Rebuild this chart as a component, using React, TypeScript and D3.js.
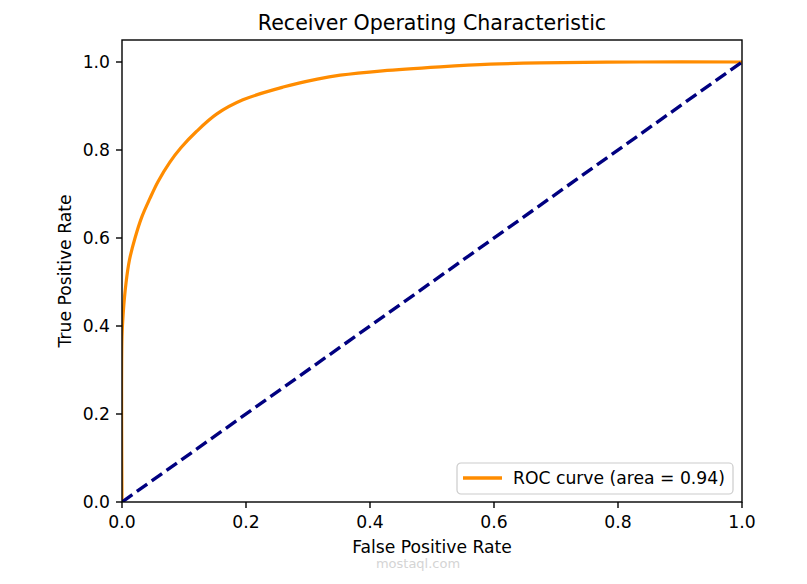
import React from 'react';
import * as d3 from 'd3';

// ROC curve
const fpr = [0, 0, 0.002, 0.0065, 0.012, 0.021, 0.032, 0.045, 0.058, 0.077, 0.095, 0.12, 0.153, 0.195, 0.26, 0.315, 0.352, 0.42, 0.513, 0.594, 0.674, 0.835, 1.0];
const tpr = [0, 0.375, 0.43, 0.498, 0.55, 0.6, 0.648, 0.69, 0.728, 0.772, 0.805, 0.842, 0.882, 0.914, 0.943, 0.961, 0.97, 0.98, 0.989, 0.995, 0.998, 1.0, 1.0];
const chanceX = [0, 1];
const chanceY = [0, 1];
const xTicks = [0, 0.2, 0.4, 0.6, 0.8, 1.0];
const yTicks = [0, 0.2, 0.4, 0.6, 0.8, 1.0];
const rocLabel = 'ROC curve (area = 0.94)';

const W = 807;
const H = 584;
const margin = { top: 40, right: 65, bottom: 82, left: 122 };
const FONT = 'DejaVu Sans, Liberation Sans, sans-serif';

export default function App() {
  const iw = W - margin.left - margin.right;
  const ih = H - margin.top - margin.bottom;

  const x = d3.scaleLinear().domain([0, 1]).range([0, iw]);
  const y = d3.scaleLinear().domain([0, 1.05]).range([ih, 0]);

  // centripetal catmull-rom copes with the vertical start segment
  const line = d3.line<number>()
    .x(d => x(d))
    .y((_, i) => y(tpr[i]))
    .curve(d3.curveCatmullRom.alpha(0.5));
  const rocPath = line(fpr) || '';

  const diag = d3.line<number>()
    .x(d => x(d))
    .y((_, i) => y(chanceY[i]))(chanceX) || '';

  const fmt = d3.format('.1f');

  return (
    <svg
      width={W}
      height={H}
      style={{ position: 'absolute', left: 0, top: 0, background: '#fff' }}
      fontFamily={FONT}
    >
      <text x={margin.left + iw / 2} y={30} textAnchor="middle" fontSize={20.6} fill="#000">
        Receiver Operating Characteristic
      </text>

      <g transform={`translate(${margin.left},${margin.top})`}>
        <defs>
          <clipPath id="plot-clip">
            <rect x={0} y={0} width={iw} height={ih} />
          </clipPath>
        </defs>

        <g clipPath="url(#plot-clip)">
          <path d={rocPath} fill="none" stroke="#ff8c00" strokeWidth={3.2} strokeLinejoin="round" />
          <path d={diag} fill="none" stroke="#000080" strokeWidth={3.4} strokeDasharray="12.7 5.5" />
        </g>

        {/* frame */}
        <rect x={0} y={0} width={iw} height={ih} fill="none" stroke="#000" strokeWidth={1.4} />

        {/* x axis */}
        {xTicks.map(t => (
          <g key={`x${t}`} transform={`translate(${x(t)},${ih})`}>
            <line y1={0} y2={6} stroke="#000" strokeWidth={1.4} />
            <text y={25.5} textAnchor="middle" fontSize={17.2} fill="#000">{fmt(t)}</text>
          </g>
        ))}
        <text x={iw / 2} y={ih + 51} textAnchor="middle" fontSize={17.2} fill="#000">
          False Positive Rate
        </text>

        {/* y axis */}
        {yTicks.map(t => (
          <g key={`y${t}`} transform={`translate(0,${y(t)})`}>
            <line x1={0} x2={-6} stroke="#000" strokeWidth={1.4} />
            <text x={-12} dy="0.35em" textAnchor="end" fontSize={17.2} fill="#000">{fmt(t)}</text>
          </g>
        ))}
        <text
          transform={`translate(${-51},${ih / 2}) rotate(-90)`}
          textAnchor="middle"
          fontSize={17.2}
          fill="#000"
        >
          True Positive Rate
        </text>

        {/* legend */}
        <g transform={`translate(${iw - 285},${ih - 39})`}>
          <rect x={0} y={0} width={276} height={31} rx={4} fill="#fff" fillOpacity={0.8} stroke="#cccccc" strokeWidth={1.2} />
          <line x1={6} x2={45} y1={15} y2={15} stroke="#ff8c00" strokeWidth={3.4} />
          <text x={56} y={15} dy="0.35em" fontSize={17.2} fill="#000">{rocLabel}</text>
        </g>
      </g>

      <text x={418} y={568} textAnchor="middle" fontSize={13} fill="#d4d4d4">mostaql.com</text>
    </svg>
  );
}
